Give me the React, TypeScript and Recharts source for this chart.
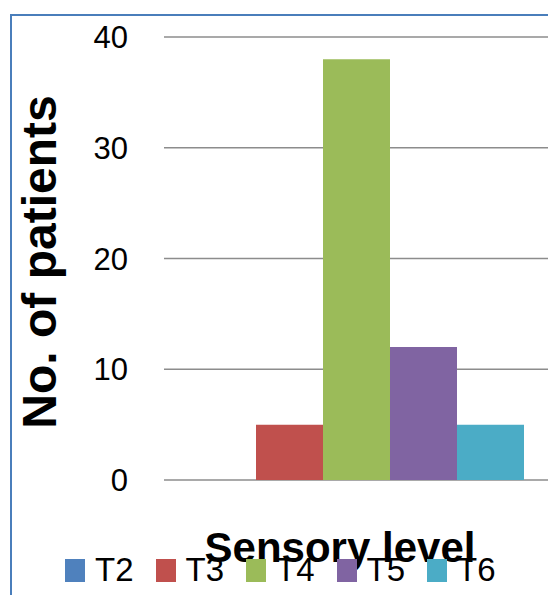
import React from 'react';
import { BarChart, Bar, XAxis, YAxis, CartesianGrid, Legend, Label } from 'recharts';

const levels = ['T2', 'T3', 'T4', 'T5', 'T6'];
const patients = [0, 5, 38, 12, 5];
const colors = ['#4F81BD', '#C0504D', '#9BBB59', '#8064A2', '#4BACC6'];
const yTicks = [0, 10, 20, 30, 40];

const row: Record<string, number | string> = { name: '' };
levels.forEach((l, i) => { row[l] = patients[i]; });
const chartData = [row];

const font = '"Liberation Sans", Arial, sans-serif';

const renderLegend = (props: any) => {
    const items = props.payload || [];
    return (
        <div style={{ display: 'flex', paddingLeft: 65, fontFamily: font, fontSize: 33, lineHeight: '36px', color: '#000' }}>
            {items.map((it: any) => (
                <div key={it.value} style={{ width: 90.5, display: 'flex', alignItems: 'center' }}>
                    <span style={{ display: 'inline-block', width: 20, height: 23, background: it.color, marginRight: 10 }} />
                    <span>{it.value}</span>
                </div>
            ))}
        </div>
    );
};

const App: React.FC = () => {
    return (
        <div style={{ position: 'absolute', left: 0, top: 0, width: 548, height: 595, overflow: 'hidden', background: '#fff' }}>
            {/* chart frame, cut off by the image edges */}
            <div style={{ position: 'absolute', left: 10, top: 14, width: 700, height: 800, border: '2px solid #4A7EBB' }} />
            <BarChart
                width={548}
                height={595}
                data={chartData}
                margin={{ top: 37, right: 0, bottom: 0, left: 0 }}
                barCategoryGap={25}
                barGap={0}
                style={{ position: 'absolute', left: 0, top: 0 }}
            >
                <CartesianGrid vertical={false} stroke="#8C8C8C" strokeWidth={1.3} />
                <XAxis dataKey="name" height={115} axisLine={false} tickLine={false} tick={false}>
                    <Label
                        content={() => (
                            <text x={340} y={562} textAnchor="middle" fontFamily={font} fontWeight="bold" fontSize={42} fill="#000">
                                Sensory level
                            </text>
                        )}
                    />
                </XAxis>
                <YAxis
                    width={164}
                    domain={[0, 40]}
                    ticks={yTicks}
                    axisLine={false}
                    tickLine={false}
                    tickMargin={30}
                    tick={{ fontFamily: font, fontSize: 31, fill: '#000' }}
                >
                    <Label
                        content={() => (
                            <text x={56} y={262} transform="rotate(-90, 56, 262)" textAnchor="middle" fontFamily={font} fontWeight="bold" fontSize={48} fill="#000">
                                No. of patients
                            </text>
                        )}
                    />
                </YAxis>
                <Legend
                    layout="horizontal"
                    verticalAlign="middle"
                    align="center"
                    content={renderLegend}
                    wrapperStyle={{ top: 552, left: 0, width: 548 }}
                />
                {levels.map((l, i) => (
                    <Bar key={l} dataKey={l} fill={colors[i]} isAnimationActive={false} />
                ))}
            </BarChart>
        </div>
    );
};

export default App;
